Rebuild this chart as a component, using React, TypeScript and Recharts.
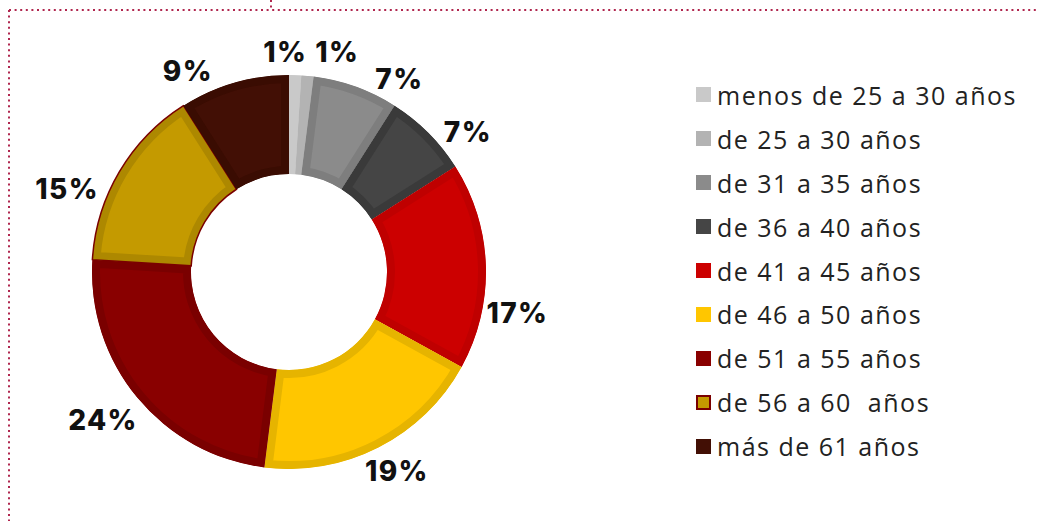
import { Legend, Pie, PieChart, Sector } from "recharts";

const ageGroups = [
  "menos de 25 a 30 años",
  "de 25 a 30 años",
  "de 31 a 35 años",
  "de 36 a 40 años",
  "de 41 a 45 años",
  "de 46 a 50 años",
  "de 51 a 55 años",
  "de 56 a 60  años",
  "más de 61 años"
];

const shares = [1, 1, 7, 7, 17, 19, 24, 15, 9];

const fills = ["#c9c9c9", "#b3b3b3", "#8b8b8b", "#454545", "#cc0000", "#ffc600", "#890000", "#c49a00", "#420f05"];
const borders = ["#c9c9c9", "#b3b3b3", "#7e7e7e", "#3a3a3a", "#bf0000", "#e6b400", "#7a0000", "#ad8800", "#3a0c02"];
const outlines = ["", "", "", "", "", "", "", "#7a0000", ""];

// manual label placement, like the hand-moved labels in the source
const labelNudge = [-2.8, 7, 10, 7, 12, -1.5, 1, -10, -10.5];
const labelRadius = [220, 225, 222, 227, 232, 226, 238, 237, 225];

const data = ageGroups.map((name, i) => ({
  name,
  value: shares[i],
  fill: fills[i],
  border: borders[i],
  outline: outlines[i],
  idx: i
}));

const RADIAN = Math.PI / 180;
const CX = 289;
const CY = 272;

function SliceShape(props: any) {
  const { cx, cy, innerRadius, outerRadius, startAngle, endAngle, payload } = props;
  const item = payload ?? {};
  const id = `slice-clip-${item.idx ?? Math.round(startAngle * 10)}`;
  const geom = { cx, cy, innerRadius, outerRadius, startAngle, endAngle };
  return (
    <g>
      <defs>
        <clipPath id={id}>
          <Sector {...geom} />
        </clipPath>
      </defs>
      <Sector {...geom} fill={item.fill} stroke={item.border} strokeWidth={16} clipPath={`url(#${id})`} />
      {item.outline ? <Sector {...geom} fill="none" stroke={item.outline} strokeWidth={1.5} /> : null}
    </g>
  );
}

function renderLabel(props: any) {
  const { cx, cy, midAngle, index, value } = props;
  const angle = (midAngle - labelNudge[index]) * RADIAN;
  const r = labelRadius[index];
  const x = cx + r * Math.cos(angle);
  const y = cy - r * Math.sin(angle);
  return (
    <text
      x={x}
      y={y}
      textAnchor="middle"
      dominantBaseline="central"
      fill="#111"
      fontFamily="Inter, 'Open Sans', sans-serif"
      fontWeight={800}
      fontSize={28}
      letterSpacing={1.4}
    >
      {`${value}%`}
    </text>
  );
}

function LegendList() {
  return (
    <div style={{ fontFamily: "'Open Sans', sans-serif", fontSize: 25, letterSpacing: 1.5, color: "#222" }}>
      {data.map((d) => (
        <div key={d.name} style={{ display: "flex", alignItems: "center", height: 43.9, whiteSpace: "pre" }}>
          <span
            style={{
              display: "inline-block",
              width: 15,
              height: 15,
              marginRight: 6,
              boxSizing: "border-box",
              background: d.fill,
              border: d.outline ? `2px solid ${d.outline}` : "none"
            }}
          />
          {d.name}
        </div>
      ))}
    </div>
  );
}

export default function App() {
  return (
    <div style={{ position: "absolute", left: 0, top: 0, width: 1038, height: 521, background: "#fff" }}>
      <svg width={1038} height={521} style={{ position: "absolute", left: 0, top: 0 }}>
        <line x1={9} y1={10} x2={1038} y2={10} stroke="#b0264e" strokeWidth={2} strokeDasharray="2 3.6" />
        <line x1={9} y1={10} x2={9} y2={521} stroke="#b0264e" strokeWidth={2} strokeDasharray="2 3.6" />
        <line x1={271} y1={0} x2={271} y2={9} stroke="#b0264e" strokeWidth={2} strokeDasharray="2 3.6" />
      </svg>
      <div style={{ position: "absolute", left: 0, top: 0 }}>
        <PieChart width={1038} height={521} margin={{ top: 0, right: 0, bottom: 0, left: 0 }}>
          <Pie
            data={data}
            dataKey="value"
            nameKey="name"
            cx={CX}
            cy={CY}
            innerRadius={98}
            outerRadius={197}
            startAngle={90}
            endAngle={-270}
            stroke="none"
            shape={SliceShape}
            label={renderLabel}
            labelLine={false}
            isAnimationActive={false}
          />
          <Legend
            layout="vertical"
            align="right"
            verticalAlign="top"
            wrapperStyle={{ left: 696, top: 73, width: 340 }}
            content={() => <LegendList />}
          />
        </PieChart>
      </div>
    </div>
  );
}
